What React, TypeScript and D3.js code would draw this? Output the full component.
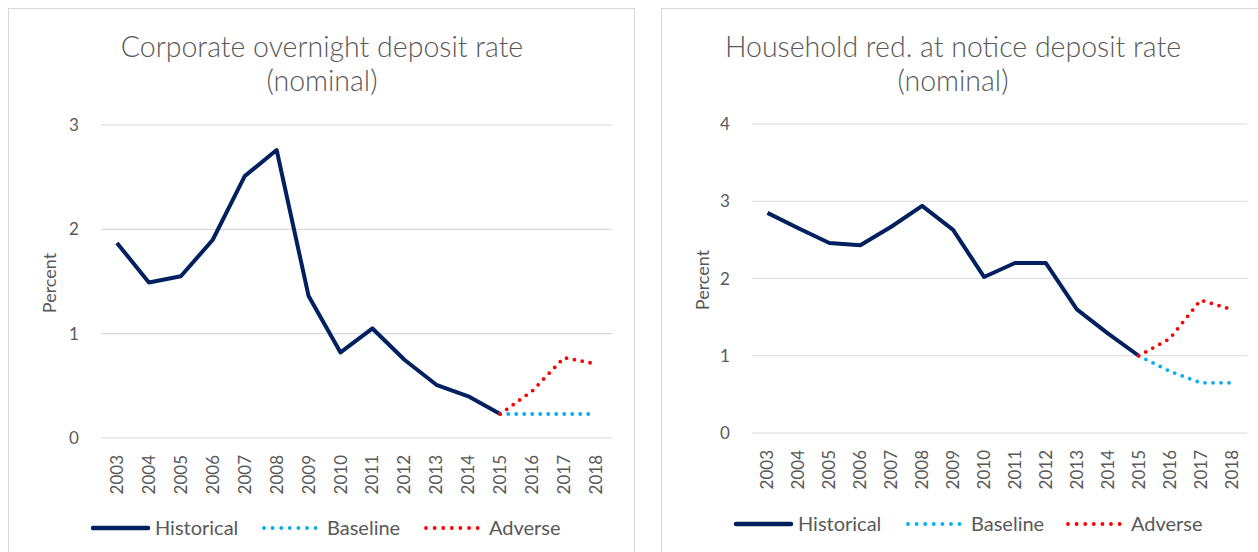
import React from "react";
import * as d3 from "d3";

const years = ["2003","2004","2005","2006","2007","2008","2009","2010","2011","2012","2013","2014","2015","2016","2017","2018"];
const projYears = ["2015","2016","2017","2018"];
const histYears = years.slice(0, 13);

const corpHistorical = [1.87,1.49,1.55,1.90,2.51,2.76,1.36,0.82,1.05,0.75,0.51,0.40,0.23];
const corpBaseline = [0.23,0.23,0.23,0.23];
const corpAdverse = [0.23,0.45,0.77,0.71];
const corpTicks = [0,1,2,3];

const hhHistorical = [2.85,2.65,2.46,2.43,2.67,2.94,2.63,2.02,2.20,2.20,1.60,1.29,1.00];
const hhBaseline = [1.00,0.80,0.65,0.65];
const hhAdverse = [1.00,1.22,1.72,1.60];
const hhTicks = [0,1,2,3,4];

const seriesNames = ["Historical","Baseline","Adverse"];

const FONT = "Lato, 'Open Sans', sans-serif";
const GRAY = "#595959";
const NAVY = "#002060";
const BLUE = "#00b0f0";
const RED = "#ff0000";

type PanelProps = {
  box: number[];
  titleLines: string[];
  titleX: number;
  plot: { left: number; right: number; top: number; bottom: number };
  yMax: number;
  ticks: number[];
  hist: number[];
  base: number[];
  adv: number[];
  yTickX: number;
  yLabelX: number;
  yLabelY: number;
  xLabelTop: number;
  legendY: number;
  legendX: number[];
};

function Panel(p: PanelProps) {
  const x = d3.scalePoint<string>().domain(years).range([p.plot.left, p.plot.right]).padding(0.5);
  const y = d3.scaleLinear().domain([0, p.yMax]).range([p.plot.bottom, p.plot.top]);
  const line = d3.line<[string, number]>().x(d => x(d[0]) as number).y(d => y(d[1]));
  const histPts = histYears.map((yr, i) => [yr, p.hist[i]] as [string, number]);
  const basePts = projYears.map((yr, i) => [yr, p.base[i]] as [string, number]);
  const advPts = projYears.map((yr, i) => [yr, p.adv[i]] as [string, number]);
  const [bx, by, bw, bh] = p.box;
  const lx = p.legendX;
  return (
    <g>
      <rect x={bx + 0.5} y={by + 0.5} width={bw} height={bh} fill="#fff" stroke="#d9d9d9" strokeWidth={1} />
      {p.titleLines.map((t, i) => (
        <text key={i} x={p.titleX} y={57 + i * 34} textAnchor="middle" fontFamily={FONT} fontWeight={300} fontSize={28.5} fill={GRAY}>{t}</text>
      ))}
      {p.ticks.map(t => (
        <g key={t}>
          <line x1={p.plot.left} x2={p.plot.right} y1={y(t)} y2={y(t)} stroke="#d9d9d9" strokeWidth={1.2} />
          <text x={p.yTickX} y={y(t) + 6} textAnchor="middle" fontFamily={FONT} fontSize={17} fill={GRAY}>{t}</text>
        </g>
      ))}
      <text transform={`translate(${p.yLabelX},${p.yLabelY}) rotate(-90)`} textAnchor="middle" fontFamily={FONT} fontSize={18} fill={GRAY}>Percent</text>
      {years.map(yr => (
        <text key={yr} transform={`translate(${(x(yr) as number) + 6},${p.xLabelTop}) rotate(-90)`} textAnchor="end" fontFamily={FONT} fontSize={17} fill={GRAY}>{yr}</text>
      ))}
      <path d={line(histPts) || ""} fill="none" stroke={NAVY} strokeWidth={4} strokeLinejoin="round" />
      <path d={line(basePts) || ""} fill="none" stroke={BLUE} strokeWidth={3.8} strokeLinecap="round" strokeDasharray="0 8" />
      <path d={line(advPts) || ""} fill="none" stroke={RED} strokeWidth={3.8} strokeLinecap="round" strokeDasharray="0 8" />
      <line x1={lx[0]} x2={lx[0] + 55} y1={p.legendY} y2={p.legendY} stroke={NAVY} strokeWidth={4.5} strokeLinecap="round" />
      <text x={lx[0] + 62} y={p.legendY + 7} fontFamily={FONT} fontSize={20} fill={GRAY}>{seriesNames[0]}</text>
      <line x1={lx[1]} x2={lx[1] + 52} y1={p.legendY} y2={p.legendY} stroke={BLUE} strokeWidth={3.8} strokeLinecap="round" strokeDasharray="0 8.6" />
      <text x={lx[1] + 63} y={p.legendY + 7} fontFamily={FONT} fontSize={20} fill={GRAY}>{seriesNames[1]}</text>
      <line x1={lx[2]} x2={lx[2] + 52} y1={p.legendY} y2={p.legendY} stroke={RED} strokeWidth={3.8} strokeLinecap="round" strokeDasharray="0 8.6" />
      <text x={lx[2] + 63} y={p.legendY + 7} fontFamily={FONT} fontSize={20} fill={GRAY}>{seriesNames[2]}</text>
    </g>
  );
}

export default function App() {
  return (
    <svg width={1258} height={552} style={{ position: "absolute", left: 0, top: 0, background: "#fff" }}>
      <Panel
        box={[8, 8, 626, 560]}
        titleLines={["Corporate overnight deposit rate", "(nominal)"]}
        titleX={322}
        plot={{ left: 101, right: 612, top: 125, bottom: 438 }}
        yMax={3}
        ticks={corpTicks}
        hist={corpHistorical}
        base={corpBaseline}
        adv={corpAdverse}
        yTickX={74}
        yLabelX={56}
        yLabelY={283}
        xLabelTop={455}
        legendY={528}
        legendX={[93, 264, 426]}
      />
      <Panel
        box={[661, 8, 620, 560]}
        titleLines={["Household red. at notice deposit rate", "(nominal)"]}
        titleX={953}
        plot={{ left: 752, right: 1247, top: 124, bottom: 433 }}
        yMax={4}
        ticks={hhTicks}
        hist={hhHistorical}
        base={hhBaseline}
        adv={hhAdverse}
        yTickX={725}
        yLabelX={709}
        yLabelY={280}
        xLabelTop={450}
        legendY={524}
        legendX={[736, 908, 1068]}
      />
    </svg>
  );
}
